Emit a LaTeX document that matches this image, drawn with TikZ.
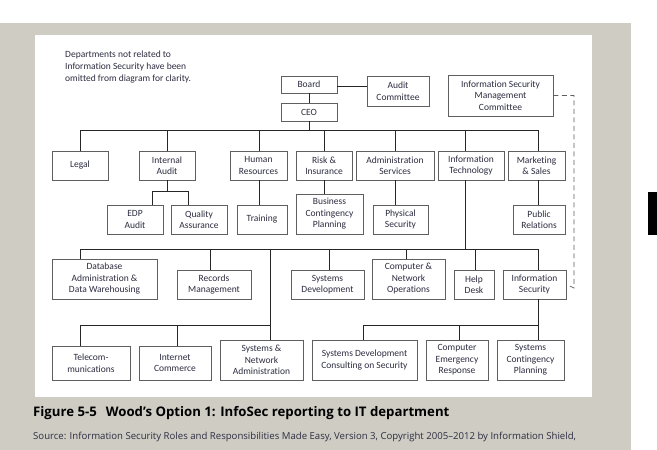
\documentclass[tikz,border=0pt]{standalone}
\usepackage{fontspec}
\setmainfont{Carlito}[Ligatures=NoCommon]
\newfontfamily\capfont{Open Sans}
\definecolor{panel}{RGB}{207,204,196}
\definecolor{boxgray}{RGB}{95,95,95}
\definecolor{txt}{RGB}{45,45,65}
\begin{document}
\begin{tikzpicture}[x=1pt,y=-1pt,
  box/.style={draw=boxgray, line width=0.8pt, fill=white, align=center, inner sep=1pt,
    text=txt, font=\fontsize{9.5}{11.5}\selectfont},
  link/.style={draw=black!85, line width=0.7pt},
  dline/.style={draw=boxgray, line width=0.7pt, dash pattern=on 5pt off 3.5pt}]
\useasboundingbox (0,0) rectangle (657,450);
\fill[panel] (0,23) rectangle (631,450);
\fill[white] (35,35) rectangle (592,397);
\fill[black] (648,192) rectangle (657,235);

\node[align=left, anchor=north west, inner sep=0pt, text=txt, font=\fontsize{9.5}{12}\selectfont] at (65,51) (note) {Departments not related to\\Information Security have been\\omitted from diagram for clarity.};

% top
\node[box] [minimum width=56, minimum height=17] at (309,84.5) (board) {Board};
\node[box] [minimum width=56, minimum height=18] at (309,112) (ceo) {CEO};
\node[box] [minimum width=62, minimum height=30] at (398,91) (acom) {Audit\\Committee};
\node[box] [minimum width=105, minimum height=41] at (500.5,95.5) (ismc) {Information Security\\Management\\Committee};

% departments
\node[box] [minimum width=56, minimum height=29] at (80,165.5) (legal) {Legal};
\node[box] [minimum width=56, minimum height=29] at (167,165.5) (audit) {Internal\\Audit};
\node[box] [minimum width=57, minimum height=29] at (258.5,165.5) (hr) {Human\\Resources};
\node[box] [minimum width=56, minimum height=29] at (324,165.5) (risk) {Risk \&\\Insurance};
\node[box] [minimum width=78, minimum height=29] at (395,165.5) (admin) {Administration\\Services};
\node[box] [minimum width=66, minimum height=29] at (471,165.5) (it) {Information\\Technology};
\node[box] [minimum width=57, minimum height=29] at (536.5,165.5) (mkt) {Marketing\\\& Sales};

\node[box] [minimum width=56, minimum height=29] at (135,219.5) (edp) {EDP\\Audit};
\node[box] [minimum width=56, minimum height=29] at (199,219.5) (qa) {Quality\\Assurance};
\node[box] [minimum width=50, minimum height=29] at (262,219.5) (train) {Training};
\node[box] [minimum width=67, minimum height=40] at (329.5,214) (bcp) {Business\\Contingency\\Planning};
\node[box] [minimum width=55, minimum height=29] at (400.5,219.5) (phys) {Physical\\Security};
\node[box] [minimum width=52, minimum height=29] at (539,219.5) (pr) {Public\\Relations};

% IT units
\node[box] [minimum width=105, minimum height=40] at (104.5,279) (dba) {Database\\Administration \&\\Data Warehousing};
\node[box] [minimum width=74, minimum height=29] at (214,284.5) (rec) {Records\\Management};
\node[box] [minimum width=73, minimum height=29] at (327.5,284.5) (sysdev) {Systems\\Development};
\node[box] [minimum width=73, minimum height=40] at (408.5,279) (cno) {Computer \&\\Network\\Operations};
\node[box] [minimum width=40, minimum height=29] at (474,284.5) (help) {Help\\Desk};
\node[box] [minimum width=63, minimum height=29] at (534.5,284.5) (infosec) {Information\\Security};

\node[box] [minimum width=78, minimum height=34] at (91,363) (tel) {Telecom-\\munications};
\node[box] [minimum width=72, minimum height=34] at (175,363) (ic) {Internet\\Commerce};
\node[box] [minimum width=83, minimum height=40] at (261.5,360) (sna) {Systems \&\\Network\\Administration};
\node[box] [minimum width=105, minimum height=40] at (364.5,360) (sdcs) {Systems Development\\Consulting on Security};
\node[box] [minimum width=62, minimum height=40] at (457,360) (cer) {Computer\\Emergency\\Response};
\node[box] [minimum width=67, minimum height=40] at (530.5,360) (scp) {Systems\\Contingency\\Planning};

% bus levels
\coordinate (b1) at (0,130);
\coordinate (b2) at (0,191);
\coordinate (b3) at (0,249);
\coordinate (b4) at (0,325);
\coordinate (dc) at (574,288);

\draw[link] (board) -- (ceo);
\draw[link] (board.east |- 0,86) -- (acom.west |- 0,86);
\draw[link] (ceo) -- (ceo.south |- b1);
\draw[link] (legal.north) |- (538,130) -- (mkt.north -| 538,0);
\draw[link] (audit) -- (audit.north |- b1);
\draw[link] (hr.north -| 259,0) -- (259,130);
\draw[link] (risk) -- (risk.north |- b1);
\draw[link] (admin) -- (admin.north |- b1);
\draw[link] (it.north -| 465,0) -- (465,130);

\draw[link] (audit) -- (audit.south |- b2);
\draw[link] (edp.north -| 152,0) |- (188,191) -- (qa.north -| 188,0);
\draw[link] (train.north -| 259,0) -- (hr.south -| 259,0);
\draw[link] (bcp.north -| 324,0) -- (risk.south);
\draw[link] (phys.north -| 395,0) -- (admin.south);
\draw[link] (pr.north -| 538,0) -- (mkt.south -| 538,0);

\draw[link] (it.south -| 465,0) -- (465,249);
\draw[link] (dba.north -| 80,0) |- (538,249) -- (infosec.north -| 538,0);
\draw[link] (rec.north -| 210,0) -- (210,249);
\draw[link] (sysdev.north -| 329,0) -- (329,249);
\draw[link] (cno.north -| 406,0) -- (406,249);
\draw[link] (help.north -| 475,0) -- (475,249);
\draw[link] (sna.north -| 270,0) -- (270,249);

\draw[link] (tel.north -| 80,0) |- (270,325);
\draw[link] (ic.north -| 177,0) -- (177,325);
\draw[link] (sdcs.north -| 363,0) |- (538,325) -- (infosec.south -| 538,0);
\draw[link] (cer.north -| 459,0) -- (459,325);
\draw[link] (scp.north -| 538,0) -- (538,325);

\draw[dline] (ismc.east) -| (dc) -- (infosec.east);

% caption
\node[anchor=west, inner sep=0pt, font=\capfont\fontsize{13.2}{15}\selectfont\bfseries] at (33,413) (cap) {Figure 5-5\hspace{9pt}Wood’s Option 1: InfoSec reporting to IT department};
\node[anchor=west, inner sep=0pt, text=txt, font=\capfont\fontsize{9.6}{11}\selectfont] at (33,437) (src) {Source: Information Security Roles and Responsibilities Made Easy, Version 3, Copyright 2005–2012 by Information Shield,};
\end{tikzpicture}
\end{document}
